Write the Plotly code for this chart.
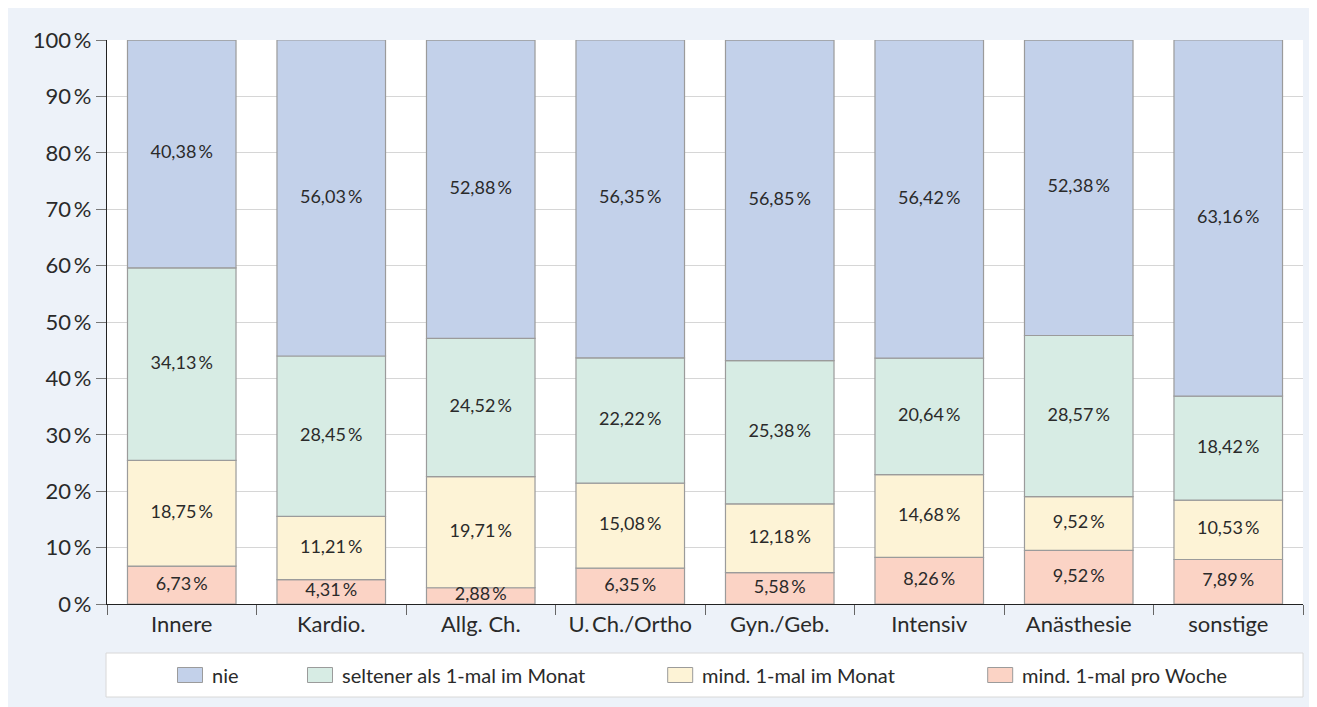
import plotly.graph_objects as go

categories = ["Innere", "Kardio.", "Allg. Ch.", "U.\u2009Ch./Ortho", "Gyn./Geb.", "Intensiv", "Anästhesie", "sonstige"]
series_names = ["mind. 1-mal pro Woche", "mind. 1-mal im Monat", "seltener als 1-mal im Monat", "nie"]
woche = [6.73, 4.31, 2.88, 6.35, 5.58, 8.26, 9.52, 7.89]
monat = [18.75, 11.21, 19.71, 15.08, 12.18, 14.68, 9.52, 10.53]
seltener = [34.13, 28.45, 24.52, 22.22, 25.38, 20.64, 28.57, 18.42]
nie = [40.38, 56.03, 52.88, 56.35, 56.85, 56.42, 52.38, 63.16]
y_ticks = [0, 10, 20, 30, 40, 50, 60, 70, 80, 90, 100]
y_tick_labels = [f"{v}\u2009%" for v in y_ticks]

colors = ["#fbd3c5", "#fdf3d6", "#d7ece4", "#c3d1ea"]
series = [woche, monat, seltener, nie]

FONT = "Lato"
TXT = "#2a2a2a"
OFF = 8  # page body margin
W, H = 1317, 707
L, R, T, B = 99, 22, 32, 111
PW, PH = W - L - R, H - T - B


def px2x(px):
    return (px - OFF - L) / PW


def px2y(py):
    return (H - B - (py - OFF)) / PH


fig = go.Figure()
bottoms = [0.0] * len(categories)
for name, vals, col in zip(series_names, series, colors):
    fig.add_trace(go.Bar(
        x=categories, y=vals, base=bottoms[:], name=name, width=0.726,
        marker=dict(color=col, line=dict(color="#9b9b9b", width=1.2)),
        showlegend=False, hoverinfo="skip",
    ))
    mids = [b + v / 2 for b, v in zip(bottoms, vals)]
    fig.add_trace(go.Scatter(
        x=categories, y=mids, mode="text",
        text=[f"{v:.2f}".replace(".", ",") + "\u2009%" for v in vals],
        textfont=dict(family=FONT, size=18, color=TXT),
        showlegend=False, hoverinfo="skip",
    ))
    bottoms = [b + v for b, v in zip(bottoms, vals)]

shapes = []
annotations = []
# legend box
shapes.append(dict(type="rect", xref="paper", yref="paper", x0=px2x(106), x1=px2x(1303),
                   y0=px2y(697), y1=px2y(653), fillcolor="white", line=dict(color="#d8d8d8", width=1)))
legend_order = [3, 2, 1, 0]
sw_x = [177.5, 307.5, 667.7, 987.7]
for idx, sx in zip(legend_order, sw_x):
    shapes.append(dict(type="rect", xref="paper", yref="paper", x0=px2x(sx), x1=px2x(sx + 25),
                       y0=px2y(682.5), y1=px2y(667.5), fillcolor=colors[idx],
                       line=dict(color="#9b9b9b", width=1)))
    annotations.append(dict(xref="paper", yref="paper", x=px2x(sx + 32), y=px2y(675),
                            xanchor="left", yanchor="middle", showarrow=False,
                            text=series_names[idx], font=dict(family=FONT, size=20, color=TXT)))

fig.update_layout(
    width=W, height=H,
    margin=dict(l=L, r=R, t=T, b=B),
    paper_bgcolor="#edf2f9", plot_bgcolor="white",
    barmode="overlay", bargap=0.27,
    shapes=shapes, annotations=annotations,
    font=dict(family=FONT, color=TXT),
    xaxis=dict(
        type="category", tickson="boundaries", ticks="outside", ticklen=10, tickcolor="#666",
        showline=True, linecolor="#222", linewidth=1.2, showgrid=False,
        tickfont=dict(family=FONT, size=22, color=TXT), range=[-0.5, 7.5],
    ),
    yaxis=dict(
        range=[0, 100], tickvals=y_ticks, ticktext=y_tick_labels, ticks="outside", ticklen=10,
        tickcolor="#777", showline=True, linecolor="#222", linewidth=1.2,
        showgrid=True, gridcolor="#d6d6d6", gridwidth=1, zeroline=False,
        tickfont=dict(family=FONT, size=22, color=TXT),
    ),
)

fig.write_html("out.html")
